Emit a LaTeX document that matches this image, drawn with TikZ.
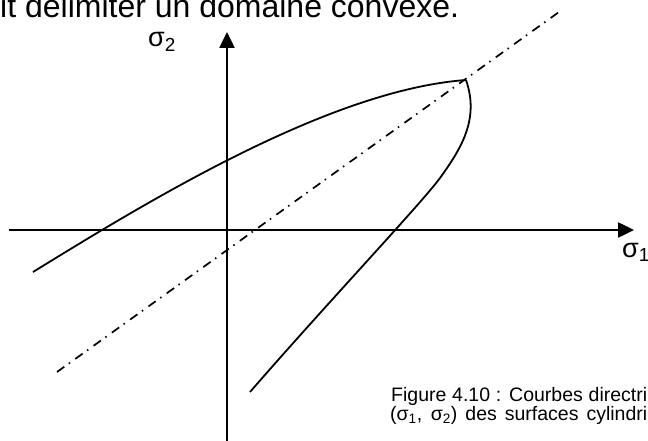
\documentclass[tikz,border=0pt]{standalone}
\usepackage{fontspec}
\setmainfont{Liberation Sans}
\usepackage{tikz}
\usetikzlibrary{arrows.meta, positioning}
\definecolor{InkBlack}{RGB}{0,0,0}

\begin{document}
\begin{tikzpicture}[x=1pt, y=-1pt,
      axis/.style={draw=InkBlack, line width=2.5pt,
                   -{Triangle[length=16pt, width=15pt]}},
      curve/.style={draw=InkBlack, line width=1.8pt, line join=round},
      bisect/.style={draw=InkBlack, line width=1.7pt,
                     dash pattern=on 9pt off 5.5pt on 1.5pt off 6.5pt},
      axislabel/.style={inner sep=0pt, anchor=base west, font=\fontsize{27}{30}\selectfont},
      captionline/.style={inner sep=0pt, anchor=base west, font=\fontsize{19.5}{20}\selectfont}
    ]
      \useasboundingbox (0,0) rectangle (648,441);

      % text above the figure
      \node[inner sep=0pt, anchor=base west, font=\fontsize{32}{38}\selectfont] (intro) at (0,18)
        {it délimiter un domaine convexe.};

      % axes
      \coordinate (xstart) at (9,230);
      \coordinate (xend)   at (634,230);
      \coordinate (ystart) at (227,441);
      \coordinate (yend)   at (227,32);
      \draw[axis] (xstart) -- (xend);
      \draw[axis] (ystart) -- (yend);
      \node[axislabel] (s1) at (622,257) {σ\textsubscript{1}};
      \node[axislabel] (s2) at (148,47)  {σ\textsubscript{2}};

      % bisector
      \coordinate (dlow)  at (57,372);
      \coordinate (dhigh) at (559,12);
      \draw[bisect] (dlow) -- (dhigh);

      % directrix curves
      \coordinate (tip) at (466,80);
      \draw[curve] (33,272) .. controls (150,200) and (330,90) .. (tip);
      \draw[curve] (tip) .. controls (480,120) and (460,150) .. (440,178)
                         .. controls (420,205) and (330,300) .. (250,392);

      % caption (justified lines)
      \node[captionline] (cap1) at (391,401)
        {\makebox[256pt][s]{Figure 4.10 : Courbes directri}};
      \node[captionline] (cap2) at (390,420)
        {\makebox[257pt][s]{(σ\textsubscript{1}, σ\textsubscript{2}) des surfaces cylindri}};
    \end{tikzpicture}
\end{document}
